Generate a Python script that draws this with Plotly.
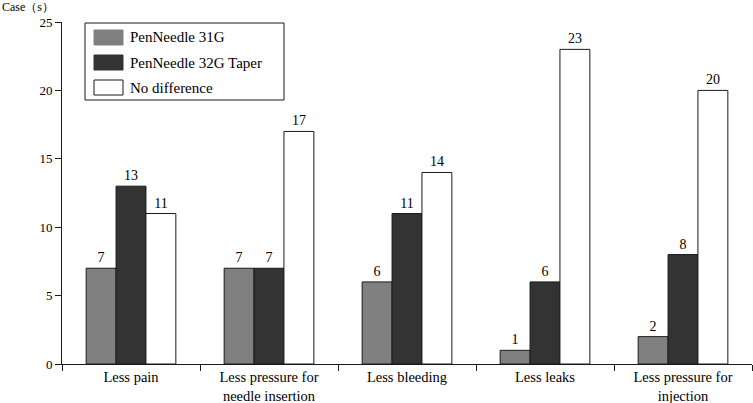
import plotly.graph_objects as go

categories = ["Less pain", "Less pressure for<br>needle insertion", "Less bleeding",
              "Less leaks", "Less pressure for<br>injection"]
pen31 = [7, 7, 6, 1, 2]
pen32 = [13, 7, 11, 6, 8]
nodiff = [11, 17, 14, 23, 20]
series_names = ["PenNeedle 31G", "PenNeedle 32G Taper", "No difference"]
colors = ["#808080", "#333333", "#ffffff"]
ytick_vals = [0, 5, 10, 15, 20, 25]

font_family = "Liberation Serif, Times New Roman, serif"
ink = "#1a1a1a"

W, H = 753, 403
L, R, T, B = 62, 1, 22, 39
PW, PH = W - L - R, H - T - B


def px_x(px):
    return (px - L) / PW


def px_y(py):
    return (H - B - py) / PH


fig = go.Figure()
for name, vals, col in zip(series_names, [pen31, pen32, nodiff], colors):
    fig.add_trace(go.Bar(
        x=categories, y=vals, name=name, showlegend=False,
        marker=dict(color=col, line=dict(color=ink, width=1)),
        text=[str(v) for v in vals], textposition="outside",
        textfont=dict(family=font_family, size=14, color="black"),
        cliponaxis=False,
    ))

shapes = []
annotations = []
# legend box
shapes.append(dict(type="rect", xref="paper", yref="paper",
                   x0=px_x(85), x1=px_x(284), y0=px_y(100), y1=px_y(23),
                   line=dict(color=ink, width=1), fillcolor="white", layer="above"))
row_centers = [37.5, 62.5, 87.5]
for name, col, cy in zip(series_names, colors, row_centers):
    shapes.append(dict(type="rect", xref="paper", yref="paper",
                       x0=px_x(94), x1=px_x(123), y0=px_y(cy + 7.5), y1=px_y(cy - 7.5),
                       line=dict(color=ink if col == "#ffffff" else col, width=1),
                       fillcolor=col, layer="above"))
    annotations.append(dict(text=name, xref="paper", yref="paper",
                            x=px_x(128), y=px_y(cy), xanchor="left", yanchor="middle",
                            showarrow=False,
                            font=dict(family=font_family, size=15, color="black")))

annotations.append(dict(
    text="Case（s）", xref="paper", yref="paper", x=px_x(0), y=px_y(7),
    xanchor="left", yanchor="middle", showarrow=False,
    font=dict(family=font_family, size=12, color="black"),
))

fig.update_layout(
    width=W, height=H,
    margin=dict(l=L, r=R, t=T, b=B),
    paper_bgcolor="white", plot_bgcolor="white",
    barmode="group", bargap=0.35, bargroupgap=0,
    font=dict(family=font_family, size=13, color=ink),
    showlegend=False,
    xaxis=dict(
        type="category", showline=True, linecolor=ink, linewidth=1,
        ticks="outside", tickson="boundaries", ticklen=6, tickcolor=ink,
        tickfont=dict(family=font_family, size=14.5, color="black"),
        showgrid=False, zeroline=False, automargin=False,
    ),
    yaxis=dict(
        range=[0, 25], tickvals=ytick_vals, showline=True, linecolor=ink,
        linewidth=1, ticks="outside", ticklen=6, tickcolor=ink,
        tickfont=dict(family=font_family, size=13, color="black"),
        showgrid=False, zeroline=False, automargin=False,
    ),
    shapes=shapes,
    annotations=annotations,
)

fig.write_html("out.html", config={"displayModeBar": False},
               post_script="document.body.style.margin='0';document.body.style.overflow='hidden';")
